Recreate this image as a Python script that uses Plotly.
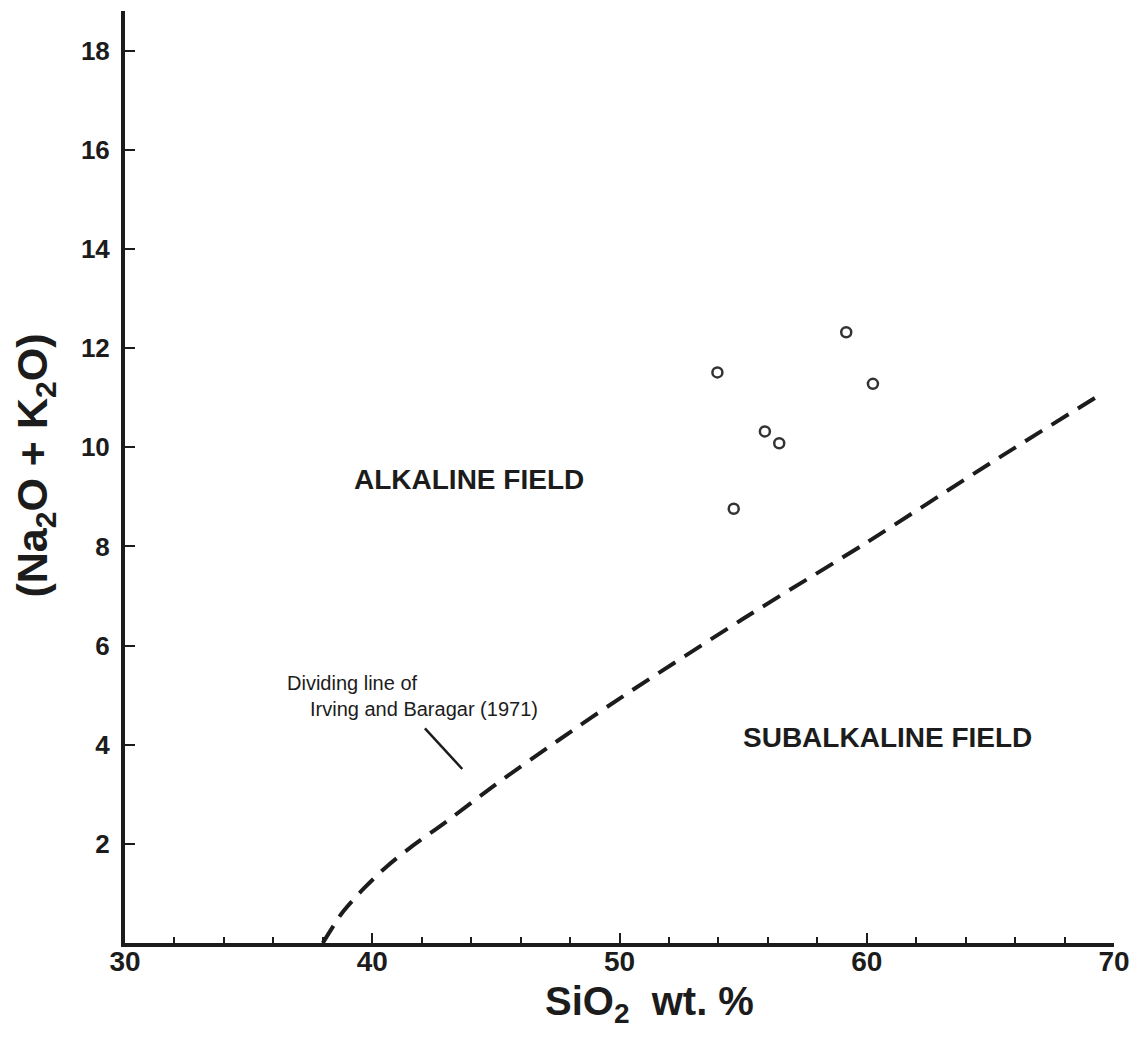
import plotly.graph_objects as go

# ---- data ----
sample_sio2 = [53.96, 59.17, 60.25, 55.88, 56.46, 54.62]
sample_alk = [11.51, 12.32, 11.28, 10.32, 10.08, 8.76]

divide_sio2 = [38.0, 38.8, 39.7, 40.6, 41.5, 43.0, 45.0, 47.5, 50.0, 55.0, 60.0, 65.0, 69.5]
divide_alk = [0.0, 0.62, 1.12, 1.55, 1.91, 2.45, 3.20, 4.08, 4.93, 6.54, 8.08, 9.68, 11.08]

leader_sio2 = [42.13, 43.64]
leader_alk = [4.33, 3.51]

x_ticks = [30, 40, 50, 60, 70]
y_ticks = [2, 4, 6, 8, 10, 12, 14, 16, 18]

INK = "#1c1c1c"
FONT = "Liberation Sans"

fig = go.Figure()

fig.add_trace(go.Scatter(
    x=divide_sio2, y=divide_alk, mode="lines",
    line=dict(color=INK, width=4, dash="20px,11px", shape="spline", smoothing=0.8),
    hoverinfo="skip", showlegend=False))

fig.add_trace(go.Scatter(
    x=leader_sio2, y=leader_alk, mode="lines",
    line=dict(color=INK, width=2.5),
    hoverinfo="skip", showlegend=False))

fig.add_trace(go.Scatter(
    x=sample_sio2, y=sample_alk, mode="markers",
    marker=dict(symbol="circle-open", size=10, color="#333333", line=dict(width=2.5, color="#333333")),
    showlegend=False))

annots = [
    dict(x=43.9, y=9.34, text="ALKALINE FIELD", size=28, bold=True, xanchor="center"),
    dict(x=60.85, y=4.14, text="SUBALKALINE FIELD", size=28, bold=True, xanchor="center"),
    dict(x=36.48, y=5.25, text="Dividing line of", size=20, bold=False, xanchor="left"),
    dict(x=37.42, y=4.72, text="Irving and Baragar (1971)", size=20, bold=False, xanchor="left"),
]
for a in annots:
    fig.add_annotation(
        x=a["x"], y=a["y"], xref="x", yref="y", text=a["text"], showarrow=False,
        xanchor=a["xanchor"], yanchor="middle",
        font=dict(family=FONT, size=a["size"], color=INK, weight="bold" if a["bold"] else "normal"))

# axis titles as annotations for exact placement
fig.add_annotation(
    x=51.2, y=0, xref="x", yref="paper", yanchor="top", yshift=-34,
    text="SiO<sub>2</sub>  wt. %", showarrow=False,
    font=dict(family=FONT, size=40, color=INK, weight="bold"))
fig.add_annotation(
    x=0, y=9.63, xref="paper", yref="y", xanchor="center", yanchor="middle", xshift=-90,
    text="(Na<sub>2</sub>O + K<sub>2</sub>O)", textangle=-90, showarrow=False,
    font=dict(family=FONT, size=43, color=INK, weight="bold"))

# page body has an 8px margin: compensate so the plot area lands where the reference has it
fig.update_layout(
    width=1147, height=1040,
    margin=dict(l=117, r=41, t=3, b=105),
    paper_bgcolor="white", plot_bgcolor="white",
    showlegend=False,
)
fig.update_xaxes(
    range=[30, 70], tickvals=x_ticks, ticktext=[str(v) for v in x_ticks],
    showgrid=False, zeroline=False, showline=True, linecolor=INK, linewidth=4,
    ticks="inside", ticklen=10, tickwidth=2, tickcolor=INK,
    minor=dict(dtick=2, ticks="inside", ticklen=6, tickwidth=1.5, tickcolor=INK, showgrid=False),
    tickfont=dict(family=FONT, size=28, color=INK, weight="bold"),
    ticklabelstandoff=-10,
)
fig.update_yaxes(
    range=[0, 18.8], tickvals=y_ticks, ticktext=[str(v) for v in y_ticks],
    showgrid=False, zeroline=False, showline=True, linecolor=INK, linewidth=4,
    ticks="inside", ticklen=10, tickwidth=2, tickcolor=INK,
    tickfont=dict(family=FONT, size=26, color=INK, weight="bold"),
    ticklabelstandoff=6,
)

fig.write_html("out.html")
